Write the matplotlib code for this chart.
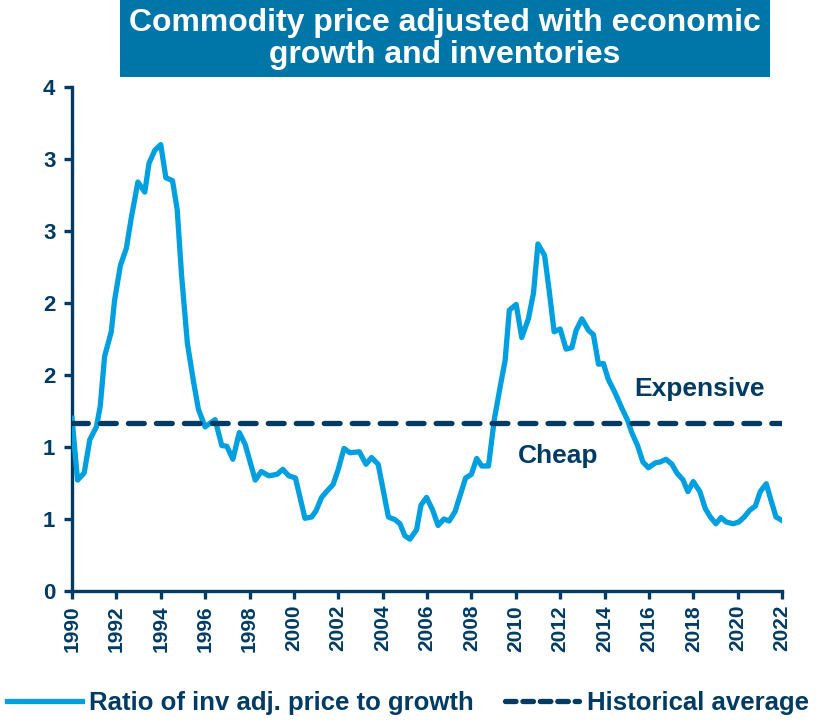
import matplotlib
matplotlib.use("Agg")
import matplotlib.pyplot as plt
from matplotlib import font_manager
from matplotlib.patches import Rectangle
from matplotlib.lines import Line2D

# ---- data ----
years = [1990.0, 1990.25, 1990.55, 1990.8, 1991.1, 1991.27, 1991.47, 1991.77, 1991.92, 1992.18,
         1992.45, 1992.67, 1992.97, 1993.28, 1993.47, 1993.73, 1994.0, 1994.23, 1994.53, 1994.74,
         1994.94, 1995.2, 1995.47, 1995.7, 1996.0, 1996.45, 1996.75, 1996.98, 1997.25, 1997.54,
         1997.8, 1998.26, 1998.53, 1998.87, 1999.24, 1999.5, 1999.77, 2000.07, 2000.5, 2000.8,
         2001.0, 2001.25, 2001.47, 2001.77, 2002.0, 2002.26, 2002.53, 2002.95, 2003.25, 2003.5,
         2003.8, 2004.26, 2004.56, 2004.78, 2005.0, 2005.23, 2005.53, 2005.73, 2005.98, 2006.26,
         2006.5, 2006.76, 2007.0, 2007.26, 2007.5, 2007.74, 2008.0, 2008.24, 2008.47, 2008.77,
         2009.04, 2009.3, 2009.52, 2009.71, 2010.02, 2010.27, 2010.57, 2010.8, 2011.0, 2011.3,
         2011.52, 2011.73, 2012.0, 2012.27, 2012.53, 2012.72, 2012.98, 2013.28, 2013.5, 2013.73,
         2013.95, 2014.17, 2014.48, 2014.78, 2015.04, 2015.23, 2015.49, 2015.73, 2015.98, 2016.29,
         2016.51, 2016.77, 2017.04, 2017.26, 2017.53, 2017.76, 2018.0, 2018.3, 2018.54, 2018.77,
         2019.02, 2019.25, 2019.49, 2019.8, 2020.05, 2020.3, 2020.54, 2020.8, 2021.02, 2021.29,
         2021.5, 2021.73, 2022.0]
ratio = [1.20, 0.77, 0.82, 1.05, 1.14, 1.28, 1.63, 1.80, 2.02, 2.26,
         2.38, 2.59, 2.84, 2.77, 2.97, 3.06, 3.10, 2.87, 2.85, 2.65,
         2.19, 1.72, 1.46, 1.26, 1.14, 1.19, 1.01, 1.005, 0.915, 1.10,
         1.02, 0.77, 0.83, 0.80, 0.81, 0.845, 0.80, 0.785, 0.505, 0.514,
         0.557, 0.65, 0.69, 0.74, 0.845, 0.99, 0.96, 0.967, 0.88, 0.927,
         0.88, 0.514, 0.495, 0.467, 0.384, 0.36, 0.425, 0.597, 0.65, 0.56,
         0.455, 0.50, 0.486, 0.55, 0.667, 0.785, 0.81, 0.92, 0.868, 0.868,
         1.198, 1.42, 1.60, 1.95, 1.99, 1.76, 1.89, 2.07, 2.41, 2.33,
         2.07, 1.80, 1.82, 1.68, 1.69, 1.81, 1.89, 1.81, 1.78, 1.575,
         1.58, 1.47, 1.375, 1.27, 1.186, 1.10, 1.01, 0.896, 0.856, 0.89,
         0.896, 0.915, 0.88, 0.82, 0.774, 0.69, 0.76, 0.69, 0.573, 0.514,
         0.467, 0.51, 0.479, 0.467, 0.479, 0.514, 0.56, 0.59, 0.69, 0.745,
         0.632, 0.514, 0.49]
hist_avg = 1.17
yticks = [0, 0.5, 1.0, 1.5, 2.0, 2.5, 3.0, 3.5]
ytick_labels = ["0", "1", "1", "2", "2", "3", "3", "4"]
xticks = list(range(1990, 2023, 2))
title = "Commodity price adjusted with economic\ngrowth and inventories"
series_label = "Ratio of inv adj. price to growth"
avg_label = "Historical average"

NAVY = "#003B64"
BLUE = "#00A0E0"
TITLE_BG = "#0075A8"

installed = {f.name for f in font_manager.fontManager.ttflist}
narrow = "Liberation Sans Narrow" if "Liberation Sans Narrow" in installed else "Liberation Sans"
plt.rcParams["font.family"] = ["Liberation Sans", "DejaVu Sans"]

fig = plt.figure(figsize=(8.21, 7.21), dpi=100)
ax = fig.add_axes([72 / 821, 1 - 591 / 721, (782 - 72) / 821, (591 - 87) / 721])

ax.plot(years, ratio, color=BLUE, lw=3.8, solid_joinstyle="round", zorder=3)
ax.axhline(hist_avg, color=NAVY, lw=3.8, dashes=(3.0, 2.3), dash_capstyle="round", zorder=4)

ax.set_xlim(1990, 2022)
ax.set_ylim(0, 3.5)
ax.set_yticks(yticks)
ax.set_yticklabels(ytick_labels)
ax.set_xticks(xticks)
ax.set_xticklabels([str(x) for x in xticks], rotation=90)
for s in ["top", "right"]:
    ax.spines[s].set_visible(False)
for s in ["left", "bottom"]:
    ax.spines[s].set_color(NAVY)
    ax.spines[s].set_linewidth(2.4)
ax.tick_params(axis="both", colors=NAVY, width=2.4, length=6, pad=4)
ax.tick_params(axis="x", labelsize=15)
ax.tick_params(axis="y", labelsize=16, pad=6)
for lab in ax.get_xticklabels() + ax.get_yticklabels():
    lab.set_fontweight("bold")
    lab.set_color(NAVY)

ax.text(2018.3, 1.40, "Expensive", ha="center", va="center", fontsize=19,
        fontweight="bold", color=NAVY)
ax.text(2011.9, 0.94, "Cheap", ha="center", va="center", fontsize=19,
        fontweight="bold", color=NAVY)

# title box
fig.patches.append(Rectangle((120 / 821, 1 - 77 / 721), 650 / 821, 77 / 721,
                             transform=fig.transFigure, facecolor=TITLE_BG,
                             edgecolor="none", zorder=0))
fig.text(445 / 821, 1 - 39 / 721, title, ha="center", va="center", color="white",
         fontsize=23, fontweight="bold", family=[narrow, "DejaVu Sans"], linespacing=1.1)

handles = [Line2D([0], [0], color=BLUE, lw=3.8),
           Line2D([0], [0], color=NAVY, lw=3.8, dashes=(2.0, 1.3), dash_capstyle="round")]
fig.legend(handles, [series_label, avg_label], loc="center", bbox_to_anchor=(0.497, 1 - 703 / 721),
           ncol=2, frameon=False, handlelength=2.9, handletextpad=0.3, columnspacing=1.2,
           prop={"family": [narrow, "DejaVu Sans"], "weight": "bold", "size": 18.5},
           labelcolor=NAVY)

fig.savefig("out.png", dpi=100)
